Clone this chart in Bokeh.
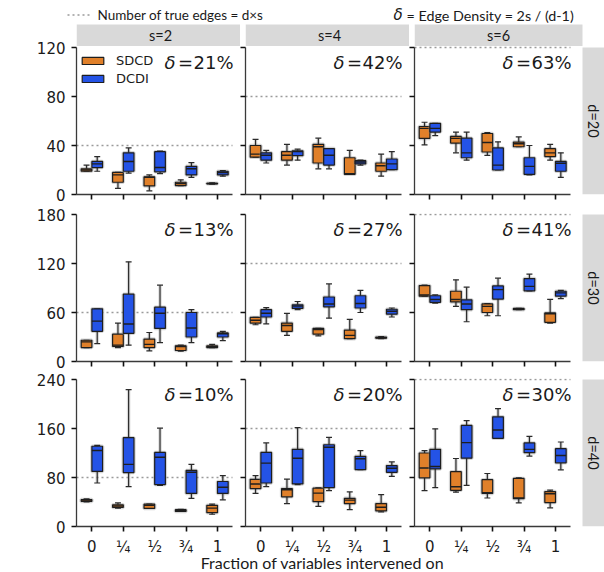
import math
from bokeh.plotting import figure
from bokeh.layouts import row, column
from bokeh.models import (ColumnDataSource, FixedTicker, Range1d, Legend, LegendItem, Label,
                          LinearAxis)
from bokeh.core.properties import value
from bokeh.embed import file_html
from bokeh.resources import INLINE

# ---------------- data ----------------
fractions = ["0", "¼", "½", "¾", "1"]
d_values = [20, 30, 40]
s_values = [2, 4, 6]
density_pct = [[21, 42, 63], [13, 27, 41], [10, 20, 30]]
y_max = [120, 180, 240]
y_ticks = [[0, 40, 80, 120], [0, 60, 120, 180], [0, 80, 160, 240]]
methods = ["SDCD", "DCDI"]

# per fraction: [whisker_low, q1, median, q3, whisker_high]
sdcd_d20_s2 = [[19, 19, 20, 21, 24], [5, 10, 16, 18, 18], [3, 7, 14, 14.5, 16], [7.3, 7.3, 9, 10, 12], [8.5, 8.7, 9, 9.2, 9.5]]
dcdi_d20_s2 = [[19, 22, 25, 27, 31], [17.5, 19, 27, 34, 38], [17, 18.5, 22, 35, 35.5], [14, 16, 21, 23, 26], [15, 16, 18, 19, 19.5]]
sdcd_d20_s4 = [[30.5, 30.5, 33, 40, 45], [24, 28, 32, 35, 41], [21, 25.7, 39, 41, 46], [16.5, 16.5, 17, 30, 36], [15, 19, 23.5, 25.7, 33]]
dcdi_d20_s4 = [[25.7, 28, 32, 34, 36], [28, 31.7, 35, 35.7, 37], [21, 24, 32, 37.5, 37.5], [24, 25, 26.5, 27.6, 28], [20.3, 20.3, 25, 29, 35]]
sdcd_d20_s6 = [[40.5, 45.8, 54, 55.5, 59], [34, 42, 45.8, 47.4, 51], [32, 34.7, 42.5, 49.8, 50.5], [39, 39, 41.4, 42.8, 47], [28, 31, 34, 37.4, 41]]
dcdi_d20_s6 = [[48, 51, 54, 58, 58], [28, 30, 34, 46, 51], [20, 20, 24, 38, 43], [16, 16.5, 23, 30, 40], [14, 19, 25.5, 27, 34]]
sdcd_d30_s2 = [[17, 17, 24, 26, 26], [17, 18.5, 20, 33.5, 47], [13, 17, 21, 27.5, 35.5], [12.7, 13.5, 18.4, 19.2, 20], [17, 17, 18, 19.2, 21]]
dcdi_d30_s2 = [[22, 37, 49.5, 64.5, 64.5], [20, 34.5, 46, 82.5, 122], [23, 40.5, 59, 66.5, 93.5], [23, 30, 41, 60, 63.5], [25.5, 30, 34, 35, 37]]
sdcd_d30_s4 = [[45, 47, 50.5, 54, 54], [32, 37, 44, 47, 59], [31.5, 33.5, 39, 40.5, 40.5], [28, 28, 32, 38.5, 51.5], [28, 28.5, 29, 30, 30.5]]
dcdi_d30_s4 = [[46, 54.5, 59, 63.5, 66], [63.5, 65, 68, 69.5, 73.5], [53, 67, 70.5, 79, 95], [60, 65.5, 71, 80.5, 87], [54.5, 58, 61.5, 64, 65.5]]
sdcd_d30_s6 = [[80, 80, 81.5, 93, 93.5], [67.5, 73, 76, 86, 100], [56, 60, 67.5, 70.5, 71], [63.5, 63.5, 64, 65, 65], [47, 48, 58.5, 59.5, 76]]
dcdi_d30_s6 = [[71.5, 72.5, 76, 80.5, 81.5], [48.7, 63.5, 70.5, 75.5, 91], [56, 76.5, 88, 92.5, 102], [86.5, 86.5, 92, 101.5, 107], [77, 80, 84, 86, 87]]
sdcd_d40_s2 = [[40, 41, 43, 44, 45], [30, 31, 33.5, 35.5, 38.5], [29.5, 29.5, 34.5, 36.5, 36.5], [24.5, 24.5, 26, 27.5, 28], [20, 22.5, 30, 34.5, 36.5]]
dcdi_d40_s2 = [[71, 90, 124, 131, 132.5], [65, 88, 101.5, 145, 223.5], [67, 68.5, 113, 121, 160.5], [46, 54, 88.5, 91.5, 101.5], [43.5, 54, 64, 73.5, 83]]
sdcd_d40_s4 = [[54, 62, 69.5, 77, 83], [37.5, 48.5, 60, 62, 77.5], [33, 40.5, 54.5, 62.5, 63], [27.5, 37.5, 43, 46, 56.5], [24, 25.5, 31.5, 37.5, 52]]
dcdi_d40_s4 = [[65, 71, 103.5, 121, 136.5], [68.5, 69.5, 111.5, 126, 161.5], [58.5, 63.5, 129.5, 133.5, 145.5], [93, 93, 110.5, 114.5, 124], [82, 88.5, 95, 99.5, 105.5]]
sdcd_d40_s6 = [[58.5, 79.5, 95.5, 120, 124], [56, 59, 65, 89.5, 111], [46.5, 54, 55, 76.5, 86.5], [38.5, 45.5, 46.5, 78.5, 79.5], [30.5, 39, 53.5, 57, 59.5]]
dcdi_d40_s6 = [[63.5, 94, 98, 126, 159.5], [67, 111.5, 137, 165, 173], [144, 144, 157.5, 179, 192.5], [115, 120.5, 126, 136.5, 147], [92.5, 104, 116, 127, 138]]

stats = {
    ("SDCD", 20, 2): sdcd_d20_s2, ("DCDI", 20, 2): dcdi_d20_s2,
    ("SDCD", 20, 4): sdcd_d20_s4, ("DCDI", 20, 4): dcdi_d20_s4,
    ("SDCD", 20, 6): sdcd_d20_s6, ("DCDI", 20, 6): dcdi_d20_s6,
    ("SDCD", 30, 2): sdcd_d30_s2, ("DCDI", 30, 2): dcdi_d30_s2,
    ("SDCD", 30, 4): sdcd_d30_s4, ("DCDI", 30, 4): dcdi_d30_s4,
    ("SDCD", 30, 6): sdcd_d30_s6, ("DCDI", 30, 6): dcdi_d30_s6,
    ("SDCD", 40, 2): sdcd_d40_s2, ("DCDI", 40, 2): dcdi_d40_s2,
    ("SDCD", 40, 4): sdcd_d40_s4, ("DCDI", 40, 4): dcdi_d40_s4,
    ("SDCD", 40, 6): sdcd_d40_s6, ("DCDI", 40, 6): dcdi_d40_s6,
}

# ---------------- style / layout constants ----------------
COLORS = {"SDCD": "#E0802A", "DCDI": "#2453E6"}
OFFS = {"SDCD": -0.17, "DCDI": 0.17}
BOX_W = 0.34
CAP_W = 0.19
PXU = 31.4
X0 = -0.49
SPINE_PX = 156
STRIP_PX = 168
DATA_H = 147
FRAME_W = [164, 164, 190]
FRAME_H = [170, 148, 148]
BORDER_L = [76, 5, 5]
BORDER_T = [0, 9, 8]
BORDER_B = [10, 9, 10]
PAGE_W = 604
HEADER_H = 24
FOOT_H = 36
TITLE_DROP = 26.3            # px from the footer top down to the title's middle line
DELTA_DROP = 15              # px from the panel's data top down to the density label's middle
STRIP_COL = "#D9D9D9"
TXT = "#1a1a1a"
LABEL_FONT = "Lato"
X_SPINE = X0 + SPINE_PX / PXU
COL_LEFT = [BORDER_L[0],
            BORDER_L[0] + FRAME_W[0] + BORDER_L[1],
            BORDER_L[0] + FRAME_W[0] + BORDER_L[1] + FRAME_W[1] + BORDER_L[2]]


def style_axis(ax):
    ax.axis_line_color = "#3a3a3a"
    ax.axis_line_width = 1.3
    ax.major_tick_line_color = "#111111"
    ax.major_tick_line_width = 1.6
    ax.major_tick_out = 5
    ax.major_tick_in = 0
    ax.minor_tick_out = 0
    ax.minor_tick_in = 0
    ax.major_label_text_font = "DejaVu Sans"
    ax.major_label_text_font_size = "15px"
    ax.major_label_text_color = TXT


def panel(r, c):
    d, s, ymax = d_values[r], s_values[c], y_max[r]
    ppu = DATA_H / ymax
    x_end = X0 + FRAME_W[c] / PXU
    y_end = FRAME_H[r] / ppu
    p = figure(frame_width=FRAME_W[c], frame_height=FRAME_H[r],
               x_range=Range1d(X0, x_end), y_range=Range1d(0, y_end),
               output_backend="svg", toolbar_location=None,
               min_border_left=BORDER_L[c], min_border_right=0,
               min_border_top=BORDER_T[r], min_border_bottom=BORDER_B[r])
    p.outline_line_color = None
    p.xgrid.grid_line_color = None
    p.ygrid.grid_line_color = None

    # facet strips
    if r == 0:
        sb = ymax + 1.5 / ppu
        p.quad(left=[X0], right=[X0 + STRIP_PX / PXU], bottom=[sb], top=[y_end + 1],
               fill_color=STRIP_COL, line_color=None)
        p.text(x=[X0 + STRIP_PX / 2 / PXU], y=[(sb + y_end) / 2], text=[f"s={s}"],
               text_align="center", text_baseline="middle", text_font=value(LABEL_FONT),
               text_font_size="14.5px", text_color=TXT)
    if c == 2:
        sl = X0 + STRIP_PX / PXU
        p.quad(left=[sl], right=[x_end + 1], bottom=[0], top=[ymax],
               fill_color=STRIP_COL, line_color=None)
        p.text(x=[(sl + x_end) / 2], y=[ymax / 2], text=[f"d={d}"], angle=-math.pi / 2,
               text_align="center", text_baseline="middle", text_font=value(LABEL_FONT),
               text_font_size="14.5px", text_color=TXT)

    # reference line: number of true edges
    p.segment(x0=[X0], x1=[X_SPINE], y0=[d * s], y1=[d * s], line_color="#9a9a9a",
              line_width=1.3, line_dash="2 3")

    quads = {}
    for m in methods:
        st = stats[(m, d, s)]
        xs = [i + OFFS[m] for i in range(len(fractions))]
        src = ColumnDataSource(dict(
            x=xs,
            left=[x - BOX_W / 2 for x in xs], right=[x + BOX_W / 2 for x in xs],
            cl=[x - CAP_W / 2 for x in xs], cr=[x + CAP_W / 2 for x in xs],
            lo=[v[0] for v in st], q1=[v[1] for v in st], med=[v[2] for v in st],
            q3=[v[3] for v in st], hi=[v[4] for v in st]))
        # soft halo
        for (y0, y1) in (("lo", "q1"), ("q3", "hi")):
            p.segment(x0="x", x1="x", y0=y0, y1=y1, source=src, line_color="#888888",
                      line_alpha=0.3, line_width=3.5)
        p.quad(left="left", right="right", bottom="q1", top="q3", source=src,
               fill_alpha=0, line_color="#888888", line_alpha=0.35, line_width=3.5)
        # whiskers + caps
        p.segment(x0="x", x1="x", y0="lo", y1="q1", source=src, line_color="#2a2a2a", line_width=1.2)
        p.segment(x0="x", x1="x", y0="q3", y1="hi", source=src, line_color="#2a2a2a", line_width=1.2)
        p.segment(x0="cl", x1="cr", y0="lo", y1="lo", source=src, line_color="#2a2a2a", line_width=1.2)
        p.segment(x0="cl", x1="cr", y0="hi", y1="hi", source=src, line_color="#2a2a2a", line_width=1.2)
        q = p.quad(left="left", right="right", bottom="q1", top="q3", source=src,
                   fill_color=COLORS[m], line_color="#1e1e1e", line_width=1.2)
        p.segment(x0="left", x1="right", y0="med", y1="med", source=src,
                  line_color="#1e1e1e", line_width=1.4)
        quads[m] = q

    # density annotation
    pct = density_pct[r][c]
    common = dict(text_baseline="middle", text_align="right", y_offset=DELTA_DROP,
                  text_font=value("DejaVu Sans"), text_font_size="18px", text_color=TXT)
    p.text(x=[X_SPINE], y=[ymax], text=[f"{pct}%"], x_offset=1, **common)
    p.text(x=[X_SPINE], y=[ymax], text=["="], x_offset=-39.5, **common)
    p.text(x=[X_SPINE], y=[ymax], text=["δ"], x_offset=-57, text_font_style="italic", **common)

    # axes (tick labels of the bottom x axes are drawn by the footer's axes)
    p.xaxis.ticker = FixedTicker(ticks=list(range(len(fractions))))
    p.xaxis.bounds = (X0, X_SPINE)
    p.yaxis.ticker = FixedTicker(ticks=y_ticks[r])
    p.yaxis.bounds = (0, ymax)
    style_axis(p.xaxis[0])
    style_axis(p.yaxis[0])
    p.yaxis.major_label_standoff = 6
    hidden = [p.xaxis[0]]
    if c > 0:
        hidden.append(p.yaxis[0])
    for ax in hidden:
        ax.major_label_text_font_size = "1px"
        ax.major_label_text_color = None
        ax.major_label_standoff = 0
    if c == 0:
        p.add_layout(Label(x=-58.5, y=ymax / 2, x_units="screen", y_units="data", text="SHD",
                           angle=math.pi / 2, text_align="center", text_baseline="middle",
                           text_font="DejaVu Sans", text_font_size="15px", text_color=TXT))

    if r == 0 and c == 0:
        leg = Legend(items=[LegendItem(label=m, renderers=[quads[m]]) for m in methods],
                     location=(3, 108), glyph_width=27, glyph_height=9, label_height=9,
                     label_standoff=10, spacing=3, padding=2, margin=0,
                     border_line_color=None, background_fill_alpha=0,
                     label_text_font="DejaVu Sans", label_text_font_size="13px",
                     label_text_color=TXT)
        p.add_layout(leg)
    return p


panels = [[panel(r, c) for c in range(3)] for r in range(3)]

# header (legend for reference line + density definition)
hdr = figure(width=PAGE_W, height=HEADER_H, x_range=Range1d(0, PAGE_W), y_range=Range1d(0, HEADER_H),
             x_axis_type=None, y_axis_type=None, output_backend="svg", toolbar_location=None,
             min_border=0)
hdr.outline_line_color = None
hdr.segment(x0=[67], x1=[91], y0=[9.5], y1=[9.5], line_color="#9a9a9a", line_width=1.3, line_dash="2 3")
hdr.text(x=[97], y=[9.5], text=["Number of true edges = d×s"], text_baseline="middle",
         text_font=value(LABEL_FONT), text_font_size="13.5px", text_color=TXT)
hdr.text(x=[393], y=[9.5], text=["δ"], text_baseline="middle", text_font=value("DejaVu Sans"),
         text_font_style="italic", text_font_size="15px", text_color=TXT)
hdr.text(x=[406], y=[9.5], text=["= Edge Density = 2s / (d-1)"], text_baseline="middle",
         text_font=value(LABEL_FONT), text_font_size="14.3px", text_color=TXT)

# footer: fraction tick labels of the bottom row (one axis per column) + x-axis title
ftr = figure(width=PAGE_W, height=FOOT_H, x_range=Range1d(0, PAGE_W), y_range=Range1d(0, FOOT_H),
             x_axis_type=None, y_axis_type=None, output_backend="svg", toolbar_location=None,
             min_border=0)
ftr.outline_line_color = None
ftr.extra_x_ranges = {f"col{c}": Range1d(X0 - COL_LEFT[c] / PXU, X0 + (PAGE_W - COL_LEFT[c]) / PXU)
                      for c in range(3)}
for c in range(3):
    ax = LinearAxis(x_range_name=f"col{c}", fixed_location=FOOT_H,
                    ticker=FixedTicker(ticks=list(range(len(fractions)))),
                    major_label_overrides={i: f for i, f in enumerate(fractions)},
                    bounds=(X0, X_SPINE))
    style_axis(ax)
    ax.axis_line_color = None
    ax.major_tick_line_color = None
    ax.major_tick_out = 0
    ax.major_label_standoff = 1
    ftr.add_layout(ax, "below")
# anchored to the footer's top edge, then moved down by a fixed pixel offset
ftr.text(x=[322], y=[FOOT_H], y_offset=TITLE_DROP, text=["Fraction of variables intervened on"],
         text_align="center", text_baseline="middle", text_font=value(LABEL_FONT),
         text_font_size="16px", text_color=TXT)

layout = column(hdr, row(*panels[0]), row(*panels[1]), row(*panels[2]), ftr)

open("out.html", "w").write(file_html(layout, INLINE))
